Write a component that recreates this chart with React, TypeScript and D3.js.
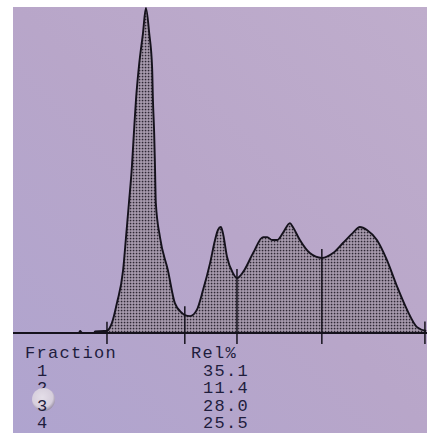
import React from "react";
import * as d3 from "d3";

// densitometer scan: position along the strip (% of scan) and relative absorbance (% of max)
const scanPos = [
  0, 11.4, 15.9, 16.2, 16.7, 19.6, 19.8, 22.0, 22.7, 23.9, 25.1, 26.6, 27.3, 28.0,
  28.7, 29.2, 29.7, 30.4, 31.4, 32.1, 32.9, 33.6, 33.8, 34.1, 34.3, 34.5, 35.5,
  37.4, 39.1, 40.8, 41.5, 42.8, 44.4, 45.9, 47.6, 48.8, 49.5, 50.2, 50.7, 51.7,
  53.1, 54.1, 55.6, 58.0, 60.4, 61.4, 62.6, 63.8, 65.2, 66.9, 67.6, 69.3, 71.7,
  74.6, 77.3, 79.7, 82.1, 83.8, 85.5, 87.9, 90.3, 92.8, 95.2, 97.6, 99.8,
];
const absorbance = [
  0, 0, 0, 0.6, 0, 0, 0.5, 0.6, 0.7, 3.1, 9.2, 19.4, 29.5, 40.0,
  50.8, 61.5, 71.7, 81.8, 92.3, 100, 92.3, 81.8, 71.7, 61.5, 51.1, 40.0, 29.5,
  19.4, 9.2, 6.2, 5.5, 5.2, 7.1, 13.2, 21.5, 28.6, 31.7, 32.6, 30.8, 23.4,
  18.5, 16.9, 18.8, 24.6, 29.5, 29.5, 28.6, 28.6, 30.8, 33.8, 32.6, 28.6, 24.6,
  23.1, 24.6, 27.7, 30.8, 32.6, 31.7, 28.6, 22.5, 14.2, 7.1, 1.8, 0.6,
];
// fraction boundaries (scan position)
const cuts = [22.7, 41.5, 54.1, 74.6, 99.5];
const fractions = ["1", "2", "3", "4"];
const relPct = [35.1, 11.4, 28.0, 25.5];

const W = 427;
const H = 434;

export default function App() {
  const x = d3.scaleLinear().domain([0, 100]).range([13, 427]);
  const y = d3.scaleLinear().domain([0, 100]).range([333, 8]);
  const pts: [number, number][] = scanPos.map((p, i) => [p, absorbance[i]]);

  const area = d3
    .area<[number, number]>()
    .x((d) => x(d[0]))
    .y0(y(0))
    .y1((d) => y(d[1]))
    .curve(d3.curveMonotoneX);
  const line = d3
    .line<[number, number]>()
    .x((d) => x(d[0]))
    .y((d) => y(d[1]))
    .curve(d3.curveMonotoneX);

  const interp = (p: number) => {
    const i = Math.max(1, Math.min(scanPos.length - 1, d3.bisectLeft(scanPos, p)));
    const t = (p - scanPos[i - 1]) / (scanPos[i] - scanPos[i - 1]);
    return absorbance[i - 1] + t * (absorbance[i] - absorbance[i - 1]);
  };

  const ink = "#15121c";
  const textInk = "#1f1d3d";
  const font = "'Liberation Mono', 'DejaVu Sans Mono', monospace";
  const rowY = (i: number) => 376 + i * 17.3;

  return (
    <svg
      width={W}
      height={H}
      style={{ position: "absolute", left: 0, top: 0, background: "#fff" }}
    >
      <defs>
        <linearGradient id="paper" x1="1" y1="0" x2="0" y2="1">
          <stop offset="0" stopColor="#bfadcc" />
          <stop offset="0.5" stopColor="#b8a6c9" />
          <stop offset="1" stopColor="#afa4cf" />
        </linearGradient>
        <pattern id="dots" width="3" height="3" patternUnits="userSpaceOnUse">
          <rect width="3" height="3" fill="#b3a5b9" />
          <rect x="0.7" y="0.7" width="1.7" height="1.7" fill="#2e2734" />
        </pattern>
        <radialGradient id="bubble" cx="0.45" cy="0.4" r="0.6">
          <stop offset="0" stopColor="#e4dee8" />
          <stop offset="0.75" stopColor="#d6cedc" />
          <stop offset="1" stopColor="#9d93a8" />
        </radialGradient>
      </defs>

      <rect x={13} y={7} width={W - 13} height={426} fill="url(#paper)" />

      <path d={area(pts) ?? ""} fill="url(#dots)" />
      <path d={line(pts) ?? ""} fill="none" stroke={ink} strokeWidth={1.9} />

      <line x1={x(0)} x2={x(100)} y1={y(0)} y2={y(0)} stroke={ink} strokeWidth={2} />

      {cuts.map((c) => (
        <line
          key={c}
          x1={x(c)}
          x2={x(c)}
          y1={y(interp(c)) - 9}
          y2={y(0) + 11}
          stroke={ink}
          strokeWidth={1.5}
        />
      ))}

      <g fontFamily={font} fontSize={17} letterSpacing={1.3} fill={textInk}>
        <text x={25} y={358}>Fraction</text>
        <text x={191} y={358}>Rel%</text>
        {fractions.map((f, i) =>
          f === "3" ? null : (
            <text key={f} x={37} y={rowY(i)}>
              {f}
            </text>
          )
        )}
        {relPct.map((v, i) => (
          <text key={i} x={203} y={rowY(i)}>
            {d3.format(".1f")(v)}
          </text>
        ))}
      </g>

      <circle cx={43.5} cy={399.5} r={11.5} fill="url(#bubble)" />
      <text x={37} y={rowY(2)} fontFamily={font} fontSize={17} fill={textInk}>
        {fractions[2]}
      </text>
    </svg>
  );
}
